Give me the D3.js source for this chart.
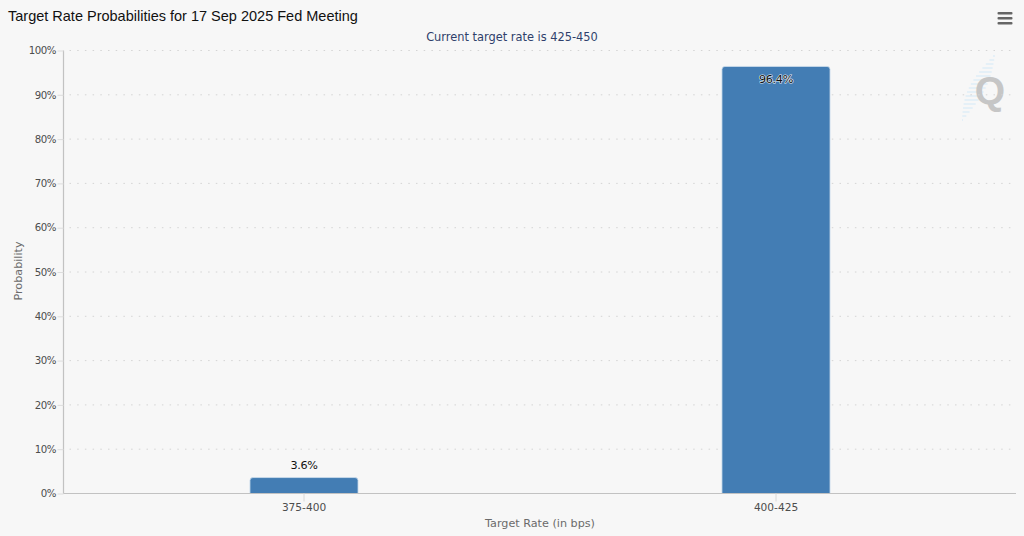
<!DOCTYPE html>
<html>
<head>
<meta charset="utf-8">
<script src="https://cdn.jsdelivr.net/npm/d3@7"></script>
<style>
  html, body { margin: 0; padding: 0; background: #f7f7f7; }
  svg { display: block; }
  text { font-family: "DejaVu Sans", sans-serif; }
</style>
</head>
<body>
<div id="chart"></div>
<script>
var categories = ['375-400', '400-425'];
var probabilities = [3.6, 96.4];
var valueLabels = ['3.6%', '96.4%'];
var yTicks = [0, 10, 20, 30, 40, 50, 60, 70, 80, 90, 100];
var stripeRows = [56, 60, 64, 68, 72, 76, 80, 84, 88, 92, 96, 100, 104, 108, 112, 116, 120];

var width = 1024, height = 536;
var svg = d3.select('#chart').append('svg')
    .attr('width', width)
    .attr('height', height);

var x = d3.scaleBand()
    .domain(categories)
    .range([68, 1012])
    .paddingInner(0.771)
    .paddingOuter(0.3855);

var y = d3.scaleLinear()
    .domain([0, 100])
    .range([493.5, 50.5]);

var axisLeft = 63.5, gridRight = 1016;

// title and subtitle
svg.append('text')
    .attr('x', 8)
    .attr('y', 20.5)
    .style('font-family', '"Liberation Sans", Arial, sans-serif')
    .style('font-size', '14.5px')
    .attr('fill', '#111')
    .text('Target Rate Probabilities for 17 Sep 2025 Fed Meeting');

svg.append('text')
    .attr('x', 512)
    .attr('y', 41)
    .attr('text-anchor', 'middle')
    .style('font-size', '11.4px')
    .attr('fill', '#2f3f6b')
    .text('Current target rate is 425-450');

// menu icon
[13, 18, 23].forEach(function (top) {
    svg.append('rect')
        .attr('x', 997.5)
        .attr('y', top - 1)
        .attr('width', 15)
        .attr('height', 2.6)
        .attr('rx', 1)
        .attr('fill', '#666');
});

// watermark
var stripes = svg.append('g').attr('stroke', '#dcedf8').attr('stroke-width', 1.3);
stripeRows.forEach(function (row) {
    var t = (row - 55) / 65;
    var cx = 994 - t * 32;
    stripes.append('line')
        .attr('x1', cx - 9 * Math.sin(t * Math.PI))
        .attr('x2', cx + 1 + 7 * Math.sin(t * Math.PI))
        .attr('y1', row)
        .attr('y2', row);
});

svg.append('text')
    .attr('x', 990)
    .attr('y', 104)
    .attr('text-anchor', 'middle')
    .style('font-family', '"Liberation Sans", Arial, sans-serif')
    .style('font-weight', 'bold')
    .style('font-size', '39px')
    .attr('fill', '#c6c6c6')
    .text('Q');

// grid
svg.append('g').selectAll('line')
    .data(yTicks)
    .join('line')
    .attr('x1', axisLeft + 6)
    .attr('x2', gridRight)
    .attr('y1', function (d) { return y(d); })
    .attr('y2', function (d) { return y(d); })
    .attr('stroke', '#d4d4d4')
    .attr('stroke-width', 1)
    .attr('stroke-dasharray', '1.5,6.2');

// bars with rounded top corners
function barPath(d, i) {
    var left = x(categories[i]), right = left + x.bandwidth();
    var top = y(d), bottom = y(0), r = 3;
    return 'M' + left + ',' + bottom +
        'V' + (top + r) +
        'Q' + left + ',' + top + ' ' + (left + r) + ',' + top +
        'H' + (right - r) +
        'Q' + right + ',' + top + ' ' + right + ',' + (top + r) +
        'V' + bottom + 'Z';
}

svg.append('g').selectAll('path')
    .data(probabilities)
    .join('path')
    .attr('d', barPath)
    .attr('fill', '#437db4')
    .attr('stroke', '#cfdfee')
    .attr('stroke-width', 0.8);

// axes
var yAxis = d3.axisLeft(y)
    .tickValues(yTicks)
    .tickSize(6)
    .tickPadding(1.5)
    .tickFormat(function (d) { return d + '%'; });

var yAxisG = svg.append('g')
    .attr('transform', 'translate(' + axisLeft + ',0)')
    .call(yAxis);
yAxisG.select('.domain').attr('stroke', '#c2c2c2').attr('stroke-width', 1.2).attr('d', 'M0,' + y(100) + 'V' + y(0));
yAxisG.selectAll('.tick line').attr('stroke', '#dddddd');
yAxisG.selectAll('.tick text')
    .style('font-size', '10.2px')
    .style('letter-spacing', '-0.45px')
    .attr('fill', '#4d4d4d');

var xAxis = d3.axisBottom(x)
    .tickSize(8)
    .tickPadding(2);

var xAxisG = svg.append('g')
    .attr('transform', 'translate(0,' + y(0) + ')')
    .call(xAxis);
xAxisG.select('.domain').attr('stroke', '#c2c2c2').attr('stroke-width', 1.2).attr('d', 'M' + axisLeft + ',0H' + gridRight);
xAxisG.selectAll('.tick line').attr('stroke', '#d8d8d8');
xAxisG.selectAll('.tick text')
    .style('font-size', '10.6px')
    .attr('fill', '#4d4d4d');

// axis titles
svg.append('text')
    .attr('x', 540)
    .attr('y', 527)
    .attr('text-anchor', 'middle')
    .style('font-size', '11.2px')
    .attr('fill', '#6b6b6b')
    .text('Target Rate (in bps)');

svg.append('text')
    .attr('transform', 'translate(21.5,271) rotate(-90)')
    .attr('text-anchor', 'middle')
    .style('font-size', '11.2px')
    .attr('fill', '#6b6b6b')
    .text('Probability');

// data labels: the tall bar keeps its label inside
svg.append('g').selectAll('text')
    .data(probabilities)
    .join('text')
    .attr('x', function (d, i) { return x(categories[i]) + x.bandwidth() / 2; })
    .attr('y', function (d) { return d > 50 ? y(d) + 16.5 : y(d) - 8.5; })
    .attr('text-anchor', 'middle')
    .style('font-size', '11.2px')
    .style('letter-spacing', '-0.3px')
    .style('paint-order', 'stroke')
    .attr('stroke', function (d) { return d > 50 ? '#ffffff' : 'none'; })
    .attr('stroke-opacity', 0.85)
    .attr('stroke-width', 1.2)
    .attr('fill', '#111')
    .text(function (d, i) { return valueLabels[i]; });
</script>
</body>
</html>
